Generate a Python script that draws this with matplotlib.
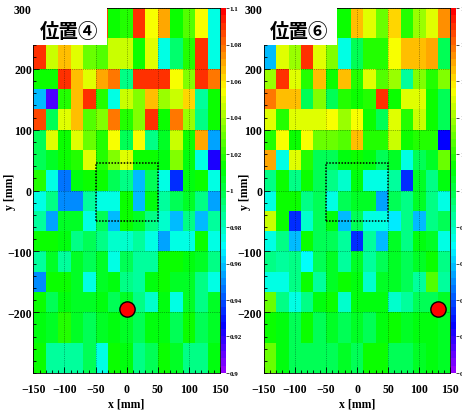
import colorsys
import numpy as np
import matplotlib.pyplot as plt
from matplotlib.colors import ListedColormap, Normalize
from matplotlib.patches import Rectangle
from matplotlib.ticker import MultipleLocator, FuncFormatter

# bin edges [mm]
x_edges = [-150, -130, -110, -90, -70, -50, -30, -10, 10, 30, 50, 70, 90, 110, 130, 150]
y_edges = [300, 250, 200, 166.7, 133.3, 100, 66.7, 33.3, 0, -33.3, -66.7, -100, -133.3, -166.7, -200, -250, -300]

# relative response, rows from top (y=300) to bottom (y=-300), 15 columns
pos4 = [
    [1.09, 1.04, 1.07, 1.02, 1.05, 1.085, 1.015, 1.02, 1.09, 1.055, 1.07, 1.015, 1.025, 1.055, 0.975],
    [1.09, 1.045, 1.065, 1.05, 1.03, 1.025, 1.045, 1.045, 1.015, 1.05, 0.975, 0.995, 1.02, 1.09, 0.975],
    [1.015, 1.015, 1.09, 1.065, 1.05, 1.07, 1.08, 0.99, 1.09, 1.09, 1.09, 1.055, 1.035, 1.09, 1.08],
    [0.96, 0.915, 1.02, 1.065, 1.09, 1.02, 0.975, 1.045, 1.035, 1.065, 1.04, 1.045, 1.06, 0.985, 1.015],
    [1.085, 1.0, 1.05, 1.065, 1.025, 1.035, 1.08, 1.02, 1.035, 1.09, 1.015, 1.08, 1.04, 0.99, 1.015],
    [1.0, 1.05, 1.015, 1.05, 1.03, 1.018, 1.055, 1.0, 1.055, 0.99, 1.005, 1.045, 1.015, 1.07, 0.955],
    [1.0, 1.005, 1.015, 1.018, 1.05, 1.018, 1.035, 1.05, 1.015, 1.015, 1.01, 1.035, 1.01, 0.975, 0.92],
    [1.018, 0.975, 0.945, 1.01, 1.015, 1.015, 1.0, 0.99, 0.96, 1.0, 0.975, 0.935, 1.01, 1.015, 0.975],
    [0.975, 0.99, 0.95, 0.95, 0.985, 0.975, 0.975, 1.015, 0.96, 1.01, 0.985, 1.0, 1.005, 0.99, 0.955],
    [0.985, 0.955, 1.005, 1.005, 0.975, 1.0, 0.96, 1.015, 1.005, 0.99, 0.98, 0.96, 0.99, 0.96, 0.985],
    [1.015, 1.015, 1.01, 0.99, 1.0, 0.99, 0.98, 0.98, 0.985, 0.975, 0.955, 0.975, 0.975, 1.015, 0.975],
    [0.985, 1.005, 0.985, 1.005, 1.0, 1.005, 0.975, 1.0, 0.985, 0.985, 1.015, 1.015, 1.01, 1.005, 0.99],
    [0.95, 1.015, 1.015, 1.005, 0.975, 1.005, 1.01, 0.99, 0.985, 1.01, 1.015, 1.005, 1.005, 0.99, 0.975],
    [1.015, 1.0, 1.01, 1.005, 1.005, 1.01, 1.0, 1.005, 0.99, 0.98, 1.01, 0.975, 1.005, 0.99, 1.005],
    [1.01, 1.005, 1.02, 1.005, 1.0, 1.005, 1.01, 1.005, 1.0, 1.01, 1.01, 1.0, 1.015, 1.0, 1.005],
    [1.015, 0.985, 0.985, 0.985, 1.0, 0.975, 1.015, 1.01, 0.99, 1.0, 1.015, 1.005, 0.99, 0.99, 1.01],
]

pos6 = [
    [1.085, 1.02, 1.04, 1.05, 0.94, 1.015, 1.015, 1.065, 1.05, 1.03, 1.06, 1.02, 1.04, 1.05, 1.075],
    [0.96, 1.05, 1.04, 1.09, 1.05, 1.035, 0.975, 1.0, 1.02, 1.02, 1.055, 1.065, 1.065, 1.07, 1.0],
    [1.04, 1.09, 1.05, 1.02, 1.065, 1.015, 1.065, 1.02, 1.05, 1.025, 1.04, 0.985, 1.035, 1.02, 1.035],
    [1.08, 1.065, 1.065, 1.0, 1.035, 1.0, 1.02, 1.015, 1.02, 1.09, 1.015, 1.05, 1.05, 1.015, 1.0],
    [1.05, 1.02, 1.05, 1.05, 1.05, 1.055, 1.04, 1.055, 1.015, 1.0, 1.05, 1.02, 1.045, 1.015, 1.0],
    [1.02, 1.055, 1.015, 1.055, 1.03, 1.03, 1.025, 1.065, 1.02, 1.02, 1.045, 1.015, 1.02, 1.02, 0.925],
    [1.07, 0.975, 1.05, 1.02, 1.0, 1.0, 1.01, 1.015, 1.01, 1.0, 1.005, 0.975, 1.0, 1.005, 1.03],
    [0.99, 1.015, 0.99, 1.015, 1.0, 0.99, 0.98, 1.01, 0.975, 0.975, 0.985, 0.935, 1.005, 0.99, 1.01],
    [0.975, 1.015, 1.015, 0.99, 1.0, 0.975, 1.0, 1.005, 1.005, 0.955, 1.0, 0.99, 1.005, 0.99, 0.975],
    [1.045, 1.015, 0.935, 0.98, 1.0, 1.01, 0.96, 1.0, 0.975, 0.975, 0.965, 0.99, 0.96, 0.99, 1.0],
    [0.975, 0.99, 0.96, 1.015, 1.0, 1.0, 0.985, 0.935, 0.985, 0.96, 1.005, 0.99, 1.01, 1.005, 0.975],
    [0.99, 0.985, 0.99, 0.97, 1.0, 1.005, 0.985, 1.005, 0.985, 1.0, 1.005, 1.0, 1.005, 1.015, 0.99],
    [0.975, 0.975, 0.99, 1.015, 0.985, 1.005, 1.015, 1.01, 0.98, 1.005, 1.005, 1.0, 0.985, 1.025, 0.985],
    [1.03, 0.99, 0.975, 0.99, 1.01, 1.015, 0.98, 1.01, 1.01, 1.01, 0.98, 0.985, 1.0, 1.0, 1.005],
    [1.015, 1.01, 1.0, 1.015, 1.0, 1.005, 1.0, 1.005, 1.0, 1.01, 1.015, 1.005, 1.01, 1.01, 1.005],
    [1.03, 1.01, 1.0, 1.0, 1.0, 1.0, 1.005, 1.0, 1.015, 1.015, 1.0, 1.0, 1.005, 1.01, 1.005],
]

labels = ['位置④', '位置⑥']
source_x = [0, 130]
source_y = [-195, -195]
box_x = [-50, 50]
box_y = [-50, 45]

# ROOT "pretty palette": 50 colours, hue 280 -> 0
hues = [280 - (i + 1) * 280 / 50 for i in range(50)]
cmap = ListedColormap([colorsys.hls_to_rgb(h / 360, 0.5, 1.0) for h in hues])
norm = Normalize(vmin=0.9, vmax=1.1)

W, H = 462, 414
fig = plt.figure(figsize=(W / 100, H / 100), dpi=100)

serif = {'family': 'Liberation Serif', 'weight': 'bold'}
panel_left = [33.3, 263.7]
ylabel_x = [-0.093, -0.068]
ax_w = 186.7
ax_top, ax_bot = 9, 374

for k, data in enumerate([pos4, pos6]):
    l = panel_left[k]
    ax = fig.add_axes([l / W, 1 - ax_bot / H, ax_w / W, (ax_bot - ax_top) / H])
    cax = fig.add_axes([(l + ax_w + 1) / W, 1 - ax_bot / H, 4.5 / W, (ax_bot - ax_top) / H])

    z = np.flipud(np.array(data))
    ye = np.array(y_edges[::-1])
    mesh = ax.pcolormesh(x_edges, ye, z, cmap=cmap, norm=norm)
    ax.set_xlim(-150, 150)
    ax.set_ylim(-300, 300)

    ax.set_xticks([-150, -100, -50, 0, 50, 100, 150])
    ax.set_yticks([-200, -100, 0, 100, 200, 300])
    ax.xaxis.set_minor_locator(MultipleLocator(10))
    ax.yaxis.set_minor_locator(MultipleLocator(20))
    ax.tick_params(which='both', direction='in', top=False, right=False, width=0.6)
    ax.tick_params(which='major', length=4)
    ax.tick_params(which='minor', length=2)
    ax.tick_params(axis='x', pad=7)
    ax.tick_params(axis='y', pad=1)
    for lab in ax.get_xticklabels() + ax.get_yticklabels():
        lab.set_fontproperties(serif)
        lab.set_fontsize(8.5)
    ax.grid(True, which='major', color='black', linestyle=':', linewidth=0.5, alpha=0.6)
    for s in ax.spines.values():
        s.set_linewidth(0.6)

    ax.set_xlabel('x [mm]', fontdict=serif, fontsize=8.5, labelpad=2)
    ax.set_ylabel('y [mm]', fontdict=serif, fontsize=8.5)
    ax.yaxis.set_label_coords(ylabel_x[k], 0.5)

    # dotted region
    ax.add_patch(Rectangle((box_x[0], box_y[0]), box_x[1] - box_x[0], box_y[1] - box_y[0],
                           fill=False, edgecolor='black', linestyle=(0, (1, 1)), linewidth=1.1))
    # source position
    ax.plot(source_x[k], source_y[k], 'o', color='red', markeredgecolor='black',
            markersize=11, markeredgewidth=1.0)

    # label box
    ax.add_patch(Rectangle((0, 0.9), 0.395, 0.1, transform=ax.transAxes,
                           facecolor='white', edgecolor='none', zorder=5))
    ax.text(0.19, 0.935, labels[k], transform=ax.transAxes, ha='center', va='center',
            fontsize=14, fontweight='bold', family=['Noto Sans CJK JP', 'DejaVu Sans'], zorder=6)

    cb = fig.colorbar(mesh, cax=cax)
    cb.outline.set_visible(False)
    cb.set_ticks([0.9, 0.92, 0.94, 0.96, 0.98, 1.0, 1.02, 1.04, 1.06, 1.08, 1.1])
    cb.ax.yaxis.set_major_formatter(FuncFormatter(lambda v, p: '%g' % round(v, 2)))
    cb.ax.tick_params(length=2, width=0.5, pad=1)
    for lab in cb.ax.get_yticklabels():
        lab.set_fontproperties(serif)
        lab.set_fontsize(5)

fig.savefig('out.png', dpi=100)
